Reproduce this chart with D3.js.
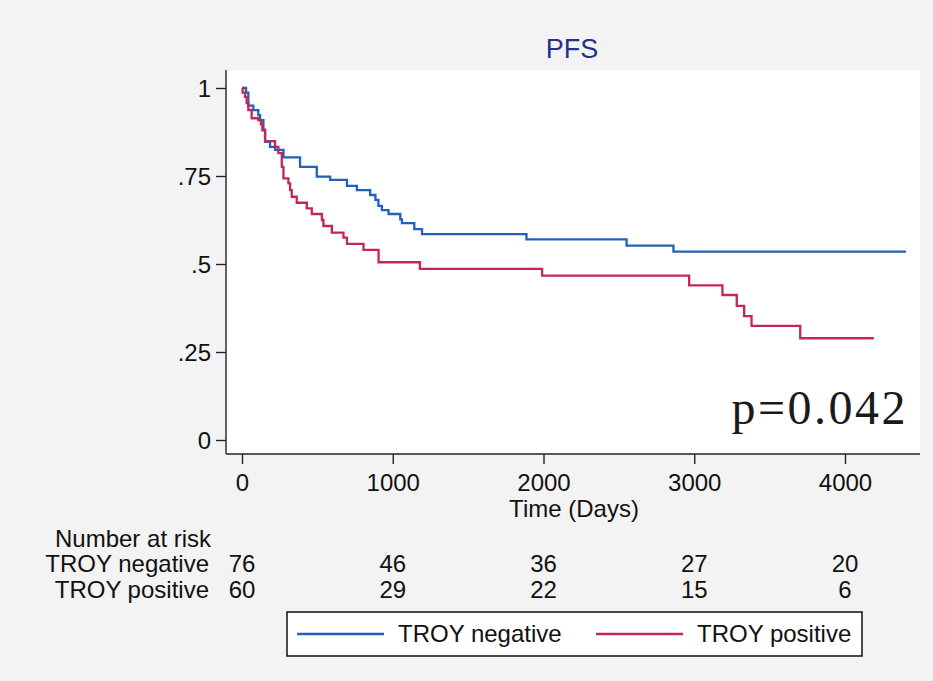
<!DOCTYPE html>
<html>
<head>
<meta charset="utf-8">
<script src="https://cdn.jsdelivr.net/npm/d3@7"></script>
<style>
  body { margin: 0; background: #f3f3f3; }
  svg { display: block; }
  text { font-family: "Liberation Sans", Arial, Helvetica, sans-serif; }
</style>
</head>
<body>
<div id="chart"></div>
<script>
// Kaplan-Meier steps: time (days) and survival after that time
const negTimes = [0, 27, 42, 75, 108, 120, 142, 153, 186, 219, 275, 385, 496, 585, 696, 762, 850, 885, 905, 928, 972, 1050, 1061, 1143, 1194, 1887, 2551, 2862];
const negSurv  = [1, 0.987, 0.95, 0.937, 0.923, 0.909, 0.882, 0.847, 0.833, 0.824, 0.803, 0.776, 0.748, 0.739, 0.722, 0.71, 0.696, 0.682, 0.665, 0.653, 0.642, 0.627, 0.616, 0.599, 0.585, 0.57, 0.552, 0.535];
const negEnd = 4405;

const posTimes = [0, 4, 20, 31, 42, 64, 108, 125, 135, 153, 219, 241, 264, 275, 308, 319, 330, 363, 430, 463, 530, 540, 596, 673, 696, 806, 906, 1180, 1991, 2966, 3187, 3282, 3331, 3380, 3703];
const posSurv  = [1, 0.987, 0.975, 0.957, 0.9375, 0.914, 0.909, 0.897, 0.88, 0.849, 0.833, 0.815, 0.776, 0.743, 0.729, 0.71, 0.691, 0.674, 0.658, 0.642, 0.625, 0.608, 0.589, 0.575, 0.557, 0.54, 0.505, 0.486, 0.467, 0.439, 0.412, 0.381, 0.352, 0.324, 0.289];
const posEnd = 4191;

const xTicks = [0, 1000, 2000, 3000, 4000];
const yTicks = [0, 0.25, 0.5, 0.75, 1];

// number at risk table
const riskTimes = [0, 1000, 2000, 3000, 4000];
const riskNeg = [76, 46, 36, 27, 20];
const riskPos = [60, 29, 22, 15, 6];

const groups = ["TROY negative", "TROY positive"];
const colors = ["#1f62b8", "#c52658"];

const width = 933, height = 681;
const svg = d3.select("#chart").append("svg")
  .attr("width", width)
  .attr("height", height);

svg.append("rect").attr("width", width).attr("height", height).attr("fill", "#f3f3f3");

// plot region
const plot = { left: 226, right: 920, top: 70, bottom: 454 };
svg.append("rect")
  .attr("x", plot.left).attr("y", plot.top)
  .attr("width", plot.right - plot.left).attr("height", plot.bottom - plot.top)
  .attr("fill", "#fff");

const x = d3.scaleLinear().domain([0, 4000]).range([242, 845]);
const y = d3.scaleLinear().domain([0, 1]).range([440, 88]);

// title
svg.append("text")
  .attr("x", 572).attr("y", 58)
  .attr("text-anchor", "middle")
  .style("font-size", "27px")
  .style("fill", "#28308c")
  .text("PFS");

// axes
const fmtY = d => d === 0 ? "0" : d === 1 ? "1" : d3.format(".2~f")(d).replace(/^0/, "");

const yAxis = svg.append("g")
  .attr("transform", `translate(${plot.left},0)`)
  .call(d3.axisLeft(y).tickValues(yTicks).tickSize(10).tickPadding(5).tickFormat(fmtY));
yAxis.select(".domain").remove();

const xAxis = svg.append("g")
  .attr("transform", `translate(0,${plot.bottom})`)
  .call(d3.axisBottom(x).tickValues(xTicks).tickSize(10).tickPadding(10).tickFormat(d3.format("d")));
xAxis.select(".domain").remove();

[yAxis, xAxis].forEach(g => {
  g.selectAll("line").attr("stroke", "#222").attr("stroke-width", 1.4);
  g.selectAll("text").style("font-size", "24px").attr("fill", "#111");
});
yAxis.selectAll("text").attr("dy", "0.36em");

svg.append("line")
  .attr("x1", plot.left).attr("x2", plot.left)
  .attr("y1", plot.top).attr("y2", plot.bottom)
  .attr("stroke", "#222").attr("stroke-width", 1.4);
svg.append("line")
  .attr("x1", plot.left).attr("x2", plot.right)
  .attr("y1", plot.bottom).attr("y2", plot.bottom)
  .attr("stroke", "#222").attr("stroke-width", 1.4);

svg.append("text")
  .attr("x", 574).attr("y", 517)
  .attr("text-anchor", "middle")
  .style("font-size", "24px")
  .attr("fill", "#111")
  .text("Time (Days)");

// KM step curves
function kmPoints(times, surv, end) {
  const pts = times.map((t, i) => [t, surv[i]]);
  pts.push([end, surv[surv.length - 1]]);
  return pts;
}
const line = d3.line().x(d => x(d[0])).y(d => y(d[1])).curve(d3.curveStepAfter);

const curves = [
  kmPoints(negTimes, negSurv, negEnd),
  kmPoints(posTimes, posSurv, posEnd)
];
curves.forEach((pts, i) => {
  svg.append("path")
    .datum(pts)
    .attr("d", line)
    .attr("fill", "none")
    .attr("stroke", colors[i])
    .attr("stroke-width", 2.3);
});

// p-value
svg.append("text")
  .attr("x", 908).attr("y", 424)
  .attr("text-anchor", "end")
  .style("font-family", "'Liberation Serif', 'Times New Roman', serif")
  .style("font-size", "48px")
  .style("letter-spacing", "2.5px")
  .attr("fill", "#1a1a1a")
  .text("p=0.042");

// number at risk
svg.append("text")
  .attr("x", 55).attr("y", 547)
  .style("font-size", "24px").attr("fill", "#111")
  .text("Number at risk");

[riskNeg, riskPos].forEach((row, i) => {
  const yy = 572 + i * 26;
  svg.append("text")
    .attr("x", 209).attr("y", yy)
    .attr("text-anchor", "end")
    .style("font-size", "24px").attr("fill", "#111")
    .text(groups[i]);
  svg.selectAll(null)
    .data(row)
    .enter().append("text")
    .attr("x", (d, j) => x(riskTimes[j]))
    .attr("y", yy)
    .attr("text-anchor", "middle")
    .style("font-size", "24px").attr("fill", "#111")
    .text(d => d);
});

// legend
const legend = svg.append("g");
legend.append("rect")
  .attr("x", 287).attr("y", 612).attr("width", 575).attr("height", 44)
  .attr("fill", "#fff").attr("stroke", "#111").attr("stroke-width", 1.5);
const legX = [297, 596];
groups.forEach((g, i) => {
  legend.append("line")
    .attr("x1", legX[i]).attr("x2", legX[i] + 87)
    .attr("y1", 634).attr("y2", 634)
    .attr("stroke", colors[i]).attr("stroke-width", 2.3);
  legend.append("text")
    .attr("x", legX[i] + 101).attr("y", 642)
    .style("font-size", "24px").attr("fill", "#111")
    .text(g);
});
</script>
</body>
</html>
